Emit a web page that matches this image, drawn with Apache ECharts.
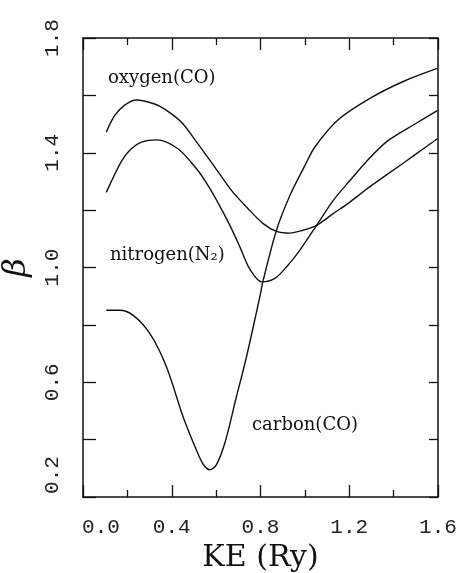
<!DOCTYPE html>
<html><head><meta charset="utf-8">
<script src="https://cdn.jsdelivr.net/npm/echarts@6/dist/echarts.min.js"></script>
<style>html,body{margin:0;padding:0;background:#fff}#c{width:465px;height:573px}</style>
</head><body><div id="c"></div>
<script>
const xTicks = [0.0, 0.4, 0.8, 1.2, 1.6];
const yTicks = [0.2, 0.6, 1.0, 1.4, 1.8];
const oxygenKE   = [0.105, 0.143, 0.188, 0.241, 0.323, 0.370, 0.444, 0.518, 0.594, 0.669, 0.744, 0.812, 0.872, 0.932, 0.992, 1.053, 1.128, 1.203, 1.290, 1.376, 1.5, 1.597];
const oxygenBeta = [1.472, 1.530, 1.566, 1.584, 1.570, 1.551, 1.506, 1.431, 1.350, 1.269, 1.205, 1.153, 1.126, 1.120, 1.130, 1.147, 1.188, 1.228, 1.280, 1.327, 1.395, 1.449];
const nitrogenKE   = [0.105, 0.173, 0.215, 0.263, 0.331, 0.428, 0.518, 0.564, 0.616, 0.662, 0.707, 0.752, 0.805, 0.865, 0.917, 0.977, 1.053, 1.128, 1.203, 1.290, 1.376, 1.5, 1.597];
const nitrogenBeta = [1.262, 1.370, 1.412, 1.437, 1.445, 1.414, 1.338, 1.285, 1.215, 1.147, 1.072, 0.994, 0.950, 0.962, 1.002, 1.060, 1.147, 1.234, 1.303, 1.380, 1.443, 1.502, 1.547];
const carbonKE   = [0.105, 0.165, 0.225, 0.301, 0.376, 0.451, 0.511, 0.541, 0.571, 0.601, 0.640, 0.690, 0.737, 0.797, 0.812, 0.872, 0.932, 1.0, 1.045, 1.150, 1.301, 1.451, 1.597];
const carbonBeta = [0.851, 0.851, 0.834, 0.770, 0.654, 0.480, 0.364, 0.315, 0.295, 0.312, 0.390, 0.545, 0.689, 0.898, 0.955, 1.130, 1.250, 1.355, 1.420, 1.515, 1.593, 1.651, 1.694];
const labels = ['oxygen(CO)', 'nitrogen(N₂)', 'carbon(CO)'];

const pairs = (a, b) => a.map((v, i) => [v, b[i]]);
const chart = echarts.init(document.getElementById('c'));
const lineStyle = { color: '#111', width: 1.4 };
const tickFont = { fontFamily: 'Liberation Mono', fontSize: 21, color: '#222' };
const mk = (name, kx, by) => ({
  name, type: 'line', data: pairs(kx, by), smooth: 0.3, symbol: 'none',
  lineStyle, xAxisIndex: 0, yAxisIndex: 0, silent: true
});
chart.setOption({
  animation: false,
  backgroundColor: '#fff',
  grid: { left: 83, right: 27, top: 38, bottom: 76, show: false, containLabel: false, outerBoundsMode: 'none' },
  xAxis: [
    { type: 'value', position: 'bottom', min: xTicks[0], max: xTicks[xTicks.length - 1], interval: 0.4,
      axisLine: { lineStyle: { color: '#111', width: 1.5 } },
      axisTick: { inside: true, length: 12, lineStyle: { color: '#111', width: 1.3 } },
      minorTick: { show: true, splitNumber: 2, length: 7, lineStyle: { color: '#111', width: 1.3 } },
      splitLine: { show: false },
      axisLabel: { margin: 20, ...tickFont,
        formatter: v => v === 0 ? '{a|0.0}' : v.toFixed(1),
        rich: { a: { ...tickFont, padding: [0, 0, 0, 36] } } },
      name: 'KE (Ry)', nameLocation: 'middle', nameGap: 43,
      nameTextStyle: { fontFamily: 'DejaVu Serif', fontSize: 30, color: '#111' } },
    { type: 'value', position: 'top', min: xTicks[0], max: xTicks[xTicks.length - 1], interval: 0.4,
      axisLine: { show: true, onZero: false, lineStyle: { color: '#111', width: 1.5 } },
      axisTick: { inside: true, length: 12, lineStyle: { color: '#111', width: 1.3 } },
      minorTick: { show: true, splitNumber: 2, length: 7, lineStyle: { color: '#111', width: 1.3 } },
      splitLine: { show: false }, axisLabel: { show: false } }
  ],
  yAxis: [
    { type: 'value', position: 'left', min: yTicks[0], max: yTicks[yTicks.length - 1], interval: 0.4,
      axisLine: { show: true, onZero: false, lineStyle: { color: '#111', width: 1.5 } },
      axisTick: { inside: true, length: 13, lineStyle: { color: '#111', width: 1.3 } },
      minorTick: { show: true, splitNumber: 2, length: 13, lineStyle: { color: '#111', width: 1.3 } },
      splitLine: { show: false },
      axisLabel: { margin: 20, rotate: 90, ...tickFont,
        formatter: v => Math.abs(v - 0.2) < 1e-9 ? '{a|0.2}' : v.toFixed(1),
        rich: { a: { ...tickFont, padding: [0, 0, 0, 44] } } },
      name: 'β', nameLocation: 'middle', nameGap: 50, nameRotate: 90,
      nameTextStyle: { fontFamily: 'DejaVu Serif', fontStyle: 'italic', fontSize: 32, color: '#111' } },
    { type: 'value', position: 'right', min: yTicks[0], max: yTicks[yTicks.length - 1], interval: 0.4,
      axisLine: { show: true, onZero: false, lineStyle: { color: '#111', width: 1.5 } },
      axisTick: { inside: true, length: 9, lineStyle: { color: '#111', width: 1.3 } },
      minorTick: { show: true, splitNumber: 2, length: 9, lineStyle: { color: '#111', width: 1.3 } },
      splitLine: { show: false }, axisLabel: { show: false } }
  ],
  series: [
    mk('oxygen', oxygenKE, oxygenBeta),
    mk('nitrogen', nitrogenKE, nitrogenBeta),
    mk('carbon', carbonKE, carbonBeta)
  ],
  graphic: [
    { type: 'text', left: 108, top: 69, style: { text: labels[0], font: '18px "DejaVu Serif"', fill: '#111' } },
    { type: 'text', left: 110, top: 246, style: { text: labels[1], font: '18px "DejaVu Serif"', fill: '#111' } },
    { type: 'text', left: 252, top: 416, style: { text: labels[2], font: '18px "DejaVu Serif"', fill: '#111' } }
  ]
});
</script></body></html>
